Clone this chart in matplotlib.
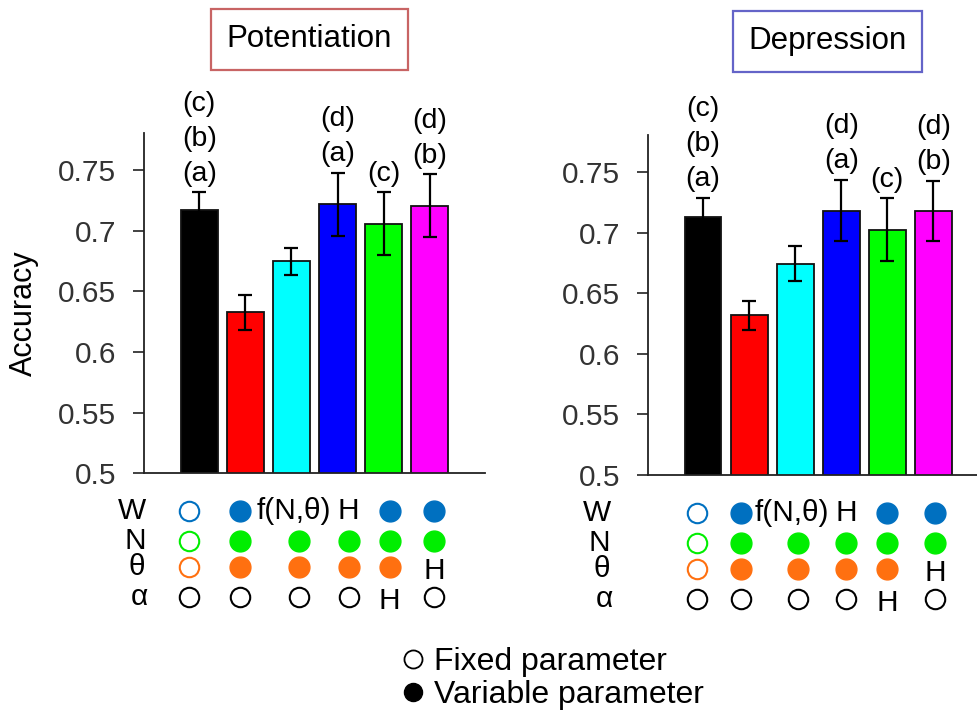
import matplotlib
matplotlib.use('Agg')
import matplotlib.pyplot as plt
import matplotlib.transforms as mtransforms
from matplotlib.lines import Line2D

plt.rcParams['font.family'] = ['Liberation Sans', 'DejaVu Sans']

# mean accuracy and error for the six model variants
pot_acc = [0.717, 0.633, 0.675, 0.722, 0.706, 0.721]
pot_err = [0.015, 0.0145, 0.011, 0.026, 0.026, 0.026]
dep_acc = [0.713, 0.632, 0.6745, 0.7185, 0.7025, 0.718]
dep_err = [0.016, 0.012, 0.0145, 0.0255, 0.026, 0.025]
bar_colors = ['black', 'red', 'cyan', 'blue', 'lime', 'magenta']
sig_labels = ['(c)\n(b)\n(a)', '', '', '(d)\n(a)', '(c)', '(d)\n(b)']
yticks = [0.5, 0.55, 0.6, 0.65, 0.7, 0.75]
ytick_labels = ['0.5', '0.55', '0.6', '0.65', '0.7', '0.75']

# parameter table under the bars: 'o' fixed, '*' variable, anything else is text
params = ['W', 'N', 'θ', 'α']
param_colors = ['#0070c0', '#00ee00', '#ff7010', 'black']
W_row = ['o', '*', 'f(N,θ)', 'H', '*', '*']
N_row = ['o', '*', '*', '*', '*', '*']
theta_row = ['o', '*', '*', '*', '*', 'H']
alpha_row = ['o', 'o', 'o', 'o', 'H', 'o']
table = [W_row, N_row, theta_row, alpha_row]


def draw_panel(ax, acc, err, title, box_color, title_x, col_x, label_x):
    x = range(len(acc))
    ax.bar(x, acc, width=0.8, color=bar_colors, edgecolor='#111111', linewidth=1.3)
    ax.errorbar(x, acc, yerr=err, fmt='none', ecolor='black', elinewidth=1.6,
                capsize=5, capthick=1.6)
    for i, lab in enumerate(sig_labels):
        if lab:
            ax.annotate(lab, (i, acc[i] + err[i]), xytext=(0, 4),
                        textcoords='offset points', ha='center', va='bottom',
                        fontsize=20.5, linespacing=1.45)
    ax.set_xlim(-1.2, 6.2)
    ax.set_ylim(0.5, 0.781)
    ax.set_yticks(yticks)
    ax.set_yticklabels(ytick_labels)
    ax.set_xticks([])
    ax.tick_params(axis='y', direction='out', length=8, width=1.2, pad=12,
                   labelsize=21.5, labelcolor='#333333', color='#222222')
    for s in ['top', 'right']:
        ax.spines[s].set_visible(False)
    for s in ['left', 'bottom']:
        ax.spines[s].set_linewidth(1.3)
        ax.spines[s].set_color('#222222')
        ax.spines[s].set_clip_on(False)

    trans = mtransforms.blended_transform_factory(ax.transData, ax.transAxes)
    row_y = [-0.111, -0.199, -0.277, -0.364]
    for r, row in enumerate(table):
        ax.text(label_x + 0.05 * r, row_y[r], params[r], transform=trans,
                ha='center', va='center', fontsize=21.5)
        for c, cell in enumerate(row):
            if cell == 'o':
                ax.plot(col_x[c], row_y[r], 'o', transform=trans, ms=14,
                        mfc='white', mec=param_colors[r], mew=1.5, clip_on=False)
            elif cell == '*':
                ax.plot(col_x[c], row_y[r], 'o', transform=trans, ms=15,
                        mfc=param_colors[r], mec=param_colors[r], clip_on=False)
            else:
                dy = 0 if r == 0 else -0.012
                dx = -0.12 if c == 2 else 0
                ax.text(col_x[c] + dx, row_y[r] + dy, cell, transform=trans,
                        ha='center', va='center', fontsize=21.5)

    ax.text(title_x, 1.275, title, transform=ax.transAxes, ha='center', va='center',
            fontsize=22.5,
            bbox=dict(boxstyle='square,pad=0.5', fc='white', ec=box_color, lw=1.6))


fig = plt.figure(figsize=(9.77, 7.13), dpi=100)
ax1 = fig.add_axes([0.1474, 0.3366, 0.349, 0.4769])
ax2 = fig.add_axes([0.663, 0.3338, 0.349, 0.4769])

draw_panel(ax1, pot_acc, pot_err, 'Potentiation', '#c86464', 0.485,
           [-0.22, 0.89, 2.17, 3.24, 4.13, 5.09], -1.45)
draw_panel(ax2, dep_acc, dep_err, 'Depression', '#6464c8', 0.527,
           [-0.13, 0.83, 2.05, 3.11, 4.0, 5.03], -2.3)

fig.text(0.024, 0.561, 'Accuracy', rotation=90, ha='center', va='center',
         fontsize=22)

handles = [Line2D([], [], ls='none', marker='o', ms=13, mfc='white', mec='black', mew=1.3),
           Line2D([], [], ls='none', marker='o', ms=13, mfc='black', mec='black')]
fig.legend(handles, ['Fixed parameter', 'Variable parameter'], loc='upper left',
           bbox_to_anchor=(0.413, 0.093), frameon=False, fontsize=23,
           handlelength=0.6, handletextpad=0.35, labelspacing=0.1,
           borderaxespad=0, borderpad=0)

fig.savefig('out.png', dpi=100)
